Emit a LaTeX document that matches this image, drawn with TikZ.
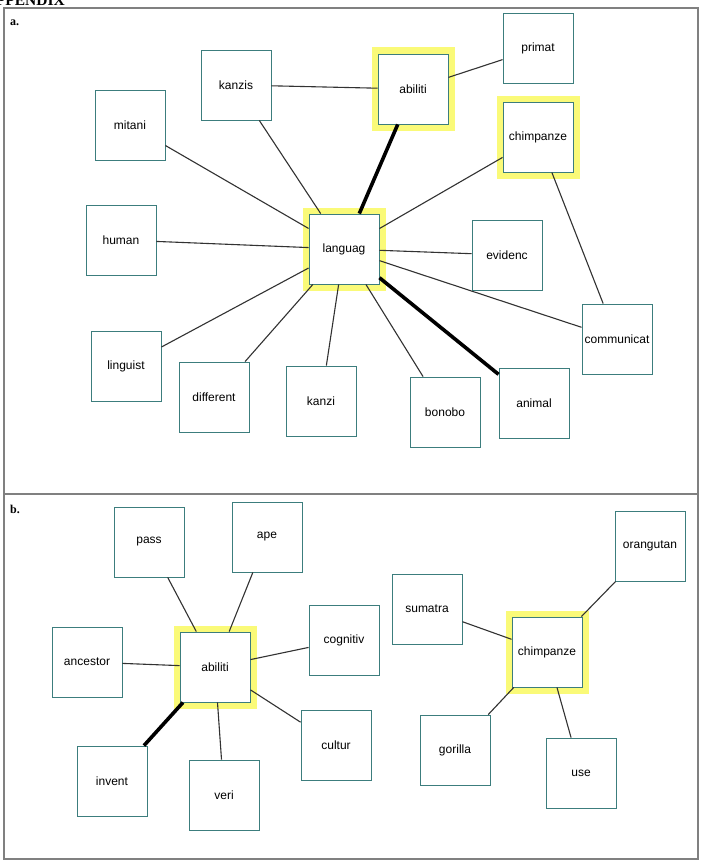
\documentclass[tikz,border=0pt]{standalone}
\usepackage{fontspec}
\setmainfont{Liberation Serif}
\newfontfamily\boxfont{Liberation Sans}
\definecolor{boxc}{RGB}{60,125,125}
\definecolor{hly}{RGB}{250,250,120}
\definecolor{framec}{RGB}{128,128,128}
\definecolor{edgec}{RGB}{50,50,50}
\begin{document}
\begin{tikzpicture}[x=1pt,y=-1pt,
  box/.style={draw=boxc, line width=0.9pt, fill=white, minimum width=70pt, minimum height=70pt, inner sep=0pt, font=\boxfont\fontsize{12}{14}\selectfont},
  hl/.style={box, preaction={draw=hly, line width=13pt}},
  edge/.style={draw=edgec, line width=1.1pt},
  thick edge/.style={draw=black, line width=3.6pt},
  lab/.style={font=\bfseries\fontsize{12}{14}\selectfont, anchor=base west, inner sep=0pt}]
\useasboundingbox (0,0) rectangle (702,867);
\fill[white] (0,0) rectangle (702,867);
% frame
\draw[framec, line width=2pt] (4,8) rectangle (698,859);
\draw[framec, line width=2pt] (4,494) -- (698,494);
\node[font=\bfseries\fontsize{15.5}{18}\selectfont, anchor=base east, inner sep=0pt] (title) at (65,6) {APPENDIX};
\node[lab] (la) at (10,26) {a.};
\node[lab] (lb) at (10,513) {b.};
% panel a nodes
\node[box] (primat) at (538,48) {primat};
\node[hl] (abA) at (413,89) {abiliti};
\node[box] (kanzis) at (236,85) {kanzis};
\node[box] (mitani) at (130,125) {mitani};
\node[hl] (chA) at (538,137) {chimpanze};
\node[hl] (lang) at (344,249) {languag};
\node[box] (human) at (121,240) {human};
\node[box] (evid) at (507,255) {evidenc};
\node[box] (comm) at (617,339) {communicat};
\node[box] (ling) at (126,366) {linguist};
\node[box] (diff) at (214,397) {different};
\node[box] (kanzi) at (321,401) {kanzi};
\node[box] (bono) at (445,412) {bonobo};
\node[box] (anim) at (534,403) {animal};
% panel a edges
\foreach \n in {mitani,kanzis,chA,evid,comm,bono,kanzi,diff,ling,human}
  \draw[edge] (lang) -- (\n);
\draw[thick edge] (lang) -- (abA);
\draw[thick edge] (lang) -- (anim);
\draw[edge] (kanzis) -- (abA);
\draw[edge] (abA) -- (primat);
\draw[edge] (chA) -- (comm);
% panel b nodes
\node[box] (pass) at (149,542) {pass};
\node[box] (ape) at (267,537) {ape};
\node[box] (orang) at (650,546) {orangutan};
\node[box] (sum) at (427,609) {sumatra};
\node[box] (anc) at (87,662) {ancestor};
\node[hl] (abB) at (215,667) {abiliti};
\node[box] (cog) at (344,640) {cognitiv};
\node[hl] (chB) at (547,652) {chimpanze};
\node[box] (cult) at (336,745) {cultur};
\node[box] (gor) at (455,750) {gorilla};
\node[box] (use) at (581,773) {use};
\node[box] (inv) at (112,781) {invent};
\node[box] (veri) at (224,795) {veri};
% panel b edges
\foreach \n in {pass,ape,anc,cog,cult,veri}
  \draw[edge] (abB) -- (\n);
\draw[thick edge] (abB) -- (inv);
\foreach \n in {sum,orang,gor,use}
  \draw[edge] (chB) -- (\n);
\end{tikzpicture}
\end{document}
